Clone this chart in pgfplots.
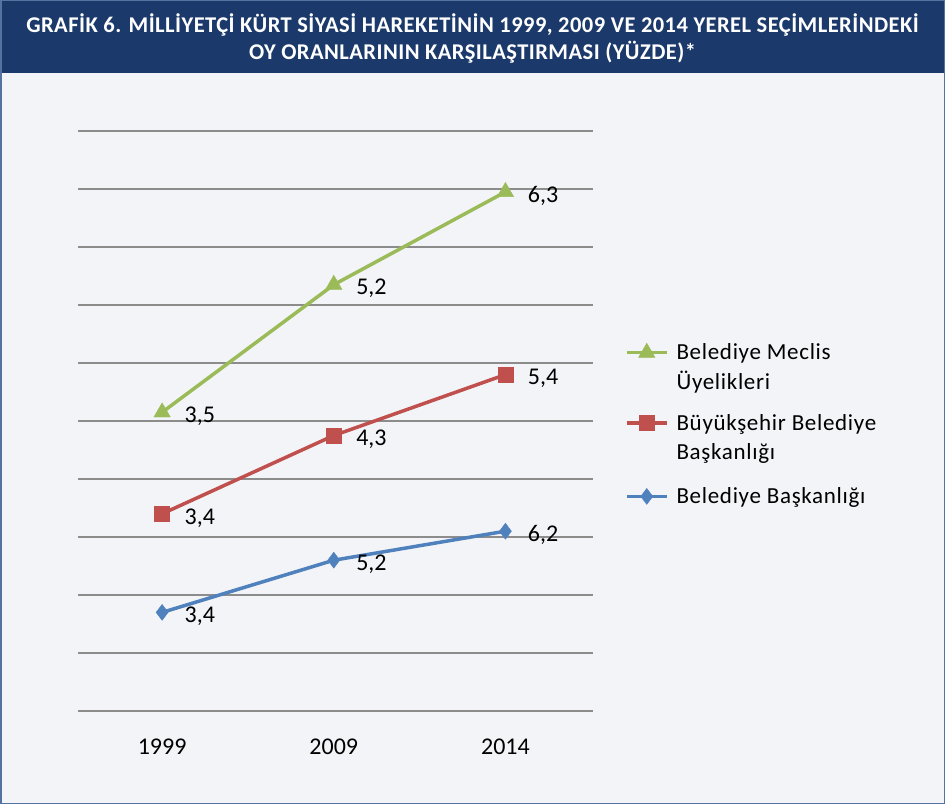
\documentclass[border=0pt]{standalone}
\usepackage{pgfplots}
\pgfplotsset{compat=1.18}
\usepackage{fontspec}
\setmainfont{Carlito}
\newfontfamily\titlefont[LetterSpace=2]{Carlito}
\newfontfamily\legendfamily[LetterSpace=3]{Carlito}
\definecolor{navy}{RGB}{27,58,107}
\definecolor{bodybg}{RGB}{243,244,248}
\definecolor{bordercol}{RGB}{84,115,160}
\definecolor{gridc}{RGB}{140,140,140}
\definecolor{cblue}{RGB}{79,129,189}
\definecolor{cred}{RGB}{192,80,77}
\definecolor{cgreen}{RGB}{155,187,89}
\newcommand{\legfont}{\legendfamily\fontsize{23}{29.5}\selectfont}
\newcommand{\legtxt}[2]{\hspace{6pt}\smash{\raisebox{-8pt}{\legfont\begin{tabular}[t]{@{}l@{}}#1\\#2\end{tabular}}}}
\newcommand{\legone}[1]{\hspace{6pt}\smash{\raisebox{-8pt}{\legfont #1}}}
\begin{document}
\begin{tikzpicture}
\fill[bodybg] (0pt,0pt) rectangle (945pt,804pt);
\fill[navy] (0pt,731pt) rectangle (945pt,804pt);
\draw[bordercol,line width=1.5pt] (0.75pt,0.75pt) rectangle (944.25pt,803.25pt);
\node[text=white, align=center, font=\titlefont\bfseries\fontsize{22.5}{27}\selectfont] at (472.5pt,766pt)
 {GRAFİK 6. MİLLİYETÇİ KÜRT SİYASİ HAREKETİNİN 1999, 2009 VE 2014 YEREL SEÇİMLERİNDEKİ\\OY ORANLARININ KARŞILAŞTIRMASI (YÜZDE)*};
\begin{axis}[
  at={(78pt,93pt)}, anchor=south west,
  width=515pt, height=580pt, scale only axis,
  xmin=-0.49, xmax=2.51, ymin=0, ymax=20,
  axis line style={draw=none},
  ytick={0,2,...,20}, yticklabels={},
  xtick={0,1,2}, xticklabels={1999,2009,2014},
  major tick length=0pt,
  ymajorgrids, grid style={gridc, line width=2pt},
  xticklabel style={font=\fontsize{24}{28}\selectfont, yshift=-24pt},
  clip=false,
  stack plots=y,
  point meta=explicit,
  nodes near coords,
  nodes near coords style={font=\fontsize{24}{28}\selectfont, text=black, anchor=west, xshift=19pt, yshift=-4pt,
    /pgf/number format/.cd, fixed, precision=1, fixed zerofill, use comma, assume math mode=true},
  reverse legend,
  legend cell align=left,
  legend style={at={(1.056,0.638)}, anchor=north west, draw=none, fill=none,
    font=\legfont, row sep=58pt},
  legend image code/.code={\draw[mark repeat=2, mark phase=2, #1] plot coordinates {(0pt,0pt) (20pt,0pt) (40pt,0pt)};},
]
\addplot[cblue, line width=3.5pt, mark=diamond*, mark size=8pt, mark options={line width=0.4pt}]
  coordinates {(0,3.4) [3.4] (1,5.2) [5.2] (2,6.2) [6.2]};
\addlegendentry{\legone{Belediye Başkanlığı}}
\addplot[cred, line width=3.5pt, mark=square*, mark size=7.5pt, mark options={line width=0.4pt}]
  coordinates {(0,3.4) [3.4] (1,4.3) [4.3] (2,5.4) [5.4]};
\addlegendentry{\legtxt{Büyükşehir Belediye}{Başkanlığı}}
\addplot[cgreen, line width=3.5pt, mark=triangle*, mark size=9.5pt, mark options={line width=0.4pt}]
  coordinates {(0,3.5) [3.5] (1,5.2) [5.2] (2,6.3) [6.3]};
\addlegendentry{\legtxt{Belediye Meclis}{Üyelikleri}}
\end{axis}
\end{tikzpicture}
\end{document}
